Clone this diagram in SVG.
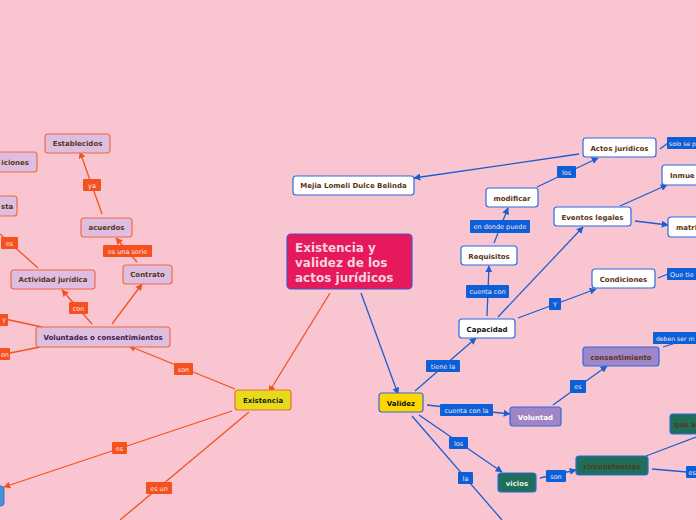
<svg xmlns="http://www.w3.org/2000/svg" width="696" height="520" viewBox="0 0 696 520">
<defs>
<marker id="ao" viewBox="0 0 10 10" refX="9" refY="5" markerWidth="7" markerHeight="7" orient="auto-start-reverse" markerUnits="userSpaceOnUse"><path d="M0,0 L10,5 L0,10 z" fill="#F4511E"/></marker>
<marker id="ab" viewBox="0 0 10 10" refX="9" refY="5" markerWidth="7" markerHeight="7" orient="auto-start-reverse" markerUnits="userSpaceOnUse"><path d="M0,0 L10,5 L0,10 z" fill="#1A5FD1"/></marker>
<style>
.lo{stroke:#F4511E;stroke-width:1.3;fill:none}
.lb{stroke:#1A5FD1;stroke-width:1.3;fill:none}
.no rect{fill:#DDBDE0;stroke:#F4693E;stroke-width:1.2}
.nw rect{fill:#FFFFFF;stroke:#2C6BE0;stroke-width:1.2}
.nt{font-family:"DejaVu Sans",sans-serif;font-weight:bold;font-size:7px;fill:#5A3517;text-anchor:middle}
.lbo rect{fill:#F4511E}
.lbb rect{fill:#0B5FD8}
.lt{font-family:"DejaVu Sans",sans-serif;font-size:6.5px;fill:#FDE3E8;text-anchor:middle}
.s{text-anchor:start}
.e{text-anchor:end}
.sm{font-size:6.1px}
</style>
</defs>
<rect width="696" height="520" fill="#F9C5D1"/>
<g id="connectors">
<line class="lo" x1="330" y1="293" x2="269" y2="392" marker-end="url(#ao)"/>
<line class="lo" x1="235" y1="389" x2="129" y2="346" marker-end="url(#ao)"/>
<line class="lo" x1="92" y1="324" x2="62" y2="290" marker-end="url(#ao)"/>
<line class="lo" x1="112" y1="324" x2="142" y2="284" marker-end="url(#ao)"/>
<line class="lo" x1="137" y1="262" x2="116" y2="238" marker-end="url(#ao)"/>
<line class="lo" x1="102" y1="214" x2="80" y2="152" marker-end="url(#ao)"/>
<line class="lo" x1="38" y1="268" x2="0" y2="234"/>
<line class="lo" x1="42" y1="327" x2="0" y2="318"/>
<line class="lo" x1="40" y1="347" x2="0" y2="355"/>
<line class="lo" x1="232" y1="411" x2="4" y2="487" marker-end="url(#ao)"/>
<line class="lo" x1="249" y1="412" x2="120" y2="520"/>
<line class="lb" x1="361" y1="293" x2="398" y2="394" marker-end="url(#ab)"/>
<line class="lb" x1="415" y1="391" x2="476" y2="338" marker-end="url(#ab)"/>
<line class="lb" x1="487" y1="316" x2="489" y2="266" marker-end="url(#ab)"/>
<line class="lb" x1="494" y1="243" x2="508" y2="208" marker-end="url(#ab)"/>
<line class="lb" x1="537" y1="187" x2="598" y2="158" marker-end="url(#ab)"/>
<line class="lb" x1="579" y1="154" x2="414" y2="178" marker-end="url(#ab)"/>
<line class="lb" x1="660" y1="149" x2="668" y2="143"/>
<line class="lb" x1="498" y1="317" x2="583" y2="227" marker-end="url(#ab)"/>
<line class="lb" x1="620" y1="206" x2="667" y2="185" marker-end="url(#ab)"/>
<line class="lb" x1="635" y1="221" x2="668" y2="225" marker-end="url(#ab)"/>
<line class="lb" x1="518" y1="318" x2="596" y2="289" marker-end="url(#ab)"/>
<line class="lb" x1="658" y1="278" x2="668" y2="274"/>
<line class="lb" x1="663" y1="347" x2="682" y2="341"/>
<line class="lb" x1="553" y1="405" x2="607" y2="366" marker-end="url(#ab)"/>
<line class="lb" x1="427" y1="405" x2="510" y2="414" marker-end="url(#ab)"/>
<line class="lb" x1="419" y1="415" x2="502" y2="472" marker-end="url(#ab)"/>
<line class="lb" x1="412" y1="416" x2="502" y2="520"/>
<line class="lb" x1="540" y1="478" x2="576" y2="470" marker-end="url(#ab)"/>
<line class="lb" x1="646" y1="456" x2="696" y2="437"/>
<line class="lb" x1="652" y1="469" x2="687" y2="472"/>
</g>
<g id="labels">
<g class="lbo"><rect x="83" y="179" width="18" height="12" rx="1"/><text class="lt" x="92" y="187.5">ya</text></g>
<g class="lbo"><rect x="103" y="245" width="49" height="12" rx="1"/><text class="lt" x="127.5" y="253.5">es una serie</text></g>
<g class="lbo"><rect x="1" y="237" width="17" height="12" rx="1"/><text class="lt" x="9.5" y="245.5">es</text></g>
<g class="lbo"><rect x="69" y="302" width="19" height="12" rx="1"/><text class="lt" x="78.5" y="310.5">con</text></g>
<g class="lbo"><rect x="-10" y="314" width="18" height="12" rx="1"/><text class="lt e" x="6" y="322.5">Y</text></g>
<g class="lbo"><rect x="-10" y="348" width="20" height="12" rx="1"/><text class="lt e" x="9" y="356.5">on</text></g>
<g class="lbo"><rect x="174" y="363" width="19" height="12" rx="1"/><text class="lt" x="183.5" y="371.5">son</text></g>
<g class="lbo"><rect x="112" y="442" width="15" height="12" rx="1"/><text class="lt" x="119.5" y="450.5">es</text></g>
<g class="lbo"><rect x="146" y="482" width="26" height="12" rx="1"/><text class="lt" x="159" y="490.5">es un</text></g>
<g class="lbb"><rect x="667" y="137" width="40" height="12" rx="1"/><text class="lt s sm" x="669" y="145.5">solo se p</text></g>
<g class="lbb"><rect x="557" y="166" width="19" height="12" rx="1"/><text class="lt" x="566.5" y="174.5">los</text></g>
<g class="lbb"><rect x="470" y="220" width="60" height="13" rx="1"/><text class="lt" x="500" y="229">en donde puede</text></g>
<g class="lbb"><rect x="466" y="285" width="43" height="13" rx="1"/><text class="lt" x="487.5" y="294">cuenta con</text></g>
<g class="lbb"><rect x="549" y="298" width="12" height="12" rx="1"/><text class="lt" x="555" y="306.5">Y</text></g>
<g class="lbb"><rect x="667" y="268" width="40" height="12" rx="1"/><text class="lt s" x="670" y="276.5">Que tie</text></g>
<g class="lbb"><rect x="653" y="332" width="50" height="12" rx="1"/><text class="lt s sm" x="656" y="340.5">deben ser m</text></g>
<g class="lbb"><rect x="426" y="360" width="34" height="12" rx="1"/><text class="lt" x="443" y="368.5">tiene la</text></g>
<g class="lbb"><rect x="440" y="404" width="53" height="12" rx="1"/><text class="lt" x="466.5" y="412.5">cuenta con la</text></g>
<g class="lbb"><rect x="570" y="380" width="16" height="13" rx="1"/><text class="lt" x="578" y="389">es</text></g>
<g class="lbb"><rect x="449" y="437" width="19" height="12" rx="1"/><text class="lt" x="458.5" y="445.5">los</text></g>
<g class="lbb"><rect x="458" y="472" width="15" height="12" rx="1"/><text class="lt" x="465.5" y="480.5">la</text></g>
<g class="lbb"><rect x="546" y="470" width="20" height="12" rx="1"/><text class="lt" x="556" y="478.5">son</text></g>
<g class="lbb"><rect x="686" y="466" width="20" height="12" rx="1"/><text class="lt s" x="688.5" y="474.5">es</text></g>
</g>
<g id="n-center"><rect x="287" y="234" width="125" height="55" rx="4" fill="#E5195C" stroke="#3E5BC8" stroke-width="1.2"/><text font-family="DejaVu Sans,sans-serif" font-weight="bold" font-size="12" fill="#F9D3DE"><tspan x="295" y="252">Existencia y</tspan><tspan x="295" y="267">validez de los</tspan><tspan x="295" y="282">actos jurídicos</tspan></text></g>
<g id="n-mejia" class="nw"><rect x="293" y="176" width="121" height="19" rx="3"/><text class="nt" x="353.5" y="188">Mejia Lomeli Dulce Belinda</text></g>
<g id="n-establecidos" class="no"><rect x="45" y="134" width="65" height="19" rx="3"/><text class="nt" x="77.5" y="146">Establecidos</text></g>
<g id="n-condiciones-l" class="no"><rect x="-42" y="152" width="79" height="20" rx="3"/><text class="nt e" x="29" y="164.5">iciones</text></g>
<g id="n-sta" class="no"><rect x="-40" y="196" width="57" height="20" rx="3"/><text class="nt s" x="1" y="208.5">sta</text></g>
<g id="n-acuerdos" class="no"><rect x="81" y="218" width="51" height="19" rx="3"/><text class="nt" x="106.5" y="230">acuerdos</text></g>
<g id="n-contrato" class="no"><rect x="123" y="265" width="49" height="19" rx="3"/><text class="nt" x="147.5" y="277">Contrato</text></g>
<g id="n-actividad" class="no"><rect x="11" y="270" width="84" height="19" rx="3"/><text class="nt" x="53" y="282">Actividad jurídica</text></g>
<g id="n-voluntades" class="no"><rect x="36" y="327" width="134" height="20" rx="3"/><text class="nt" x="103" y="339.5" style="fill:#40204A">Voluntades o consentimientos</text></g>
<g id="n-existencia"><rect x="235" y="390" width="56" height="20" rx="3" fill="#E6DA1C" stroke="#F4693E" stroke-width="1.2"/><text class="nt" x="263" y="402.5" style="fill:#1A1A1A">Existencia</text></g>
<g id="n-blue-left"><rect x="-30" y="486" width="34" height="20" rx="3" fill="#4A90D9" stroke="#3A78C0" stroke-width="1"/></g>
<g id="n-actos" class="nw"><rect x="583" y="138" width="73" height="19" rx="3"/><text class="nt" x="619.5" y="150.5">Actos jurídicos</text></g>
<g id="n-modificar" class="nw"><rect x="486" y="188" width="52" height="19" rx="3"/><text class="nt" x="512" y="200.5">modificar</text></g>
<g id="n-eventos" class="nw"><rect x="554" y="207" width="77" height="19" rx="3"/><text class="nt" x="592.5" y="219.5">Eventos legales</text></g>
<g id="n-inmuebles" class="nw"><rect x="662" y="165" width="60" height="20" rx="3"/><text class="nt s" x="670" y="177.5">Inmue</text></g>
<g id="n-matrimonio" class="nw"><rect x="668" y="217" width="60" height="20" rx="3"/><text class="nt s" x="676" y="229.5">matri</text></g>
<g id="n-requisitos" class="nw"><rect x="461" y="246" width="56" height="19" rx="3"/><text class="nt" x="489" y="258.5">Requisitos</text></g>
<g id="n-condiciones" class="nw"><rect x="592" y="269" width="63" height="19" rx="3"/><text class="nt" x="623.5" y="281.5">Condiciones</text></g>
<g id="n-capacidad" class="nw"><rect x="459" y="319" width="56" height="19" rx="3"/><text class="nt" x="487" y="331.5" style="fill:#111">Capacidad</text></g>
<g id="n-consentimiento"><rect x="583" y="347" width="76" height="19" rx="3" fill="#9E86C8" stroke="#2C6BE0" stroke-width="1.2"/><text class="nt" x="621" y="359.5">consentimiento</text></g>
<g id="n-validez"><rect x="379" y="393" width="44" height="19" rx="3" fill="#FFD600" stroke="#2C6BE0" stroke-width="1.2"/><text class="nt" x="401" y="405.5" style="fill:#111">Validez</text></g>
<g id="n-voluntad"><rect x="510" y="407" width="51" height="19" rx="3" fill="#A084C6" stroke="#2C6BE0" stroke-width="1.2"/><text class="nt" x="535.5" y="419.5" style="fill:#FFFFFF">Voluntad</text></g>
<g id="n-vicios"><rect x="498" y="473" width="38" height="19" rx="3" fill="#1E6E5A" stroke="#2C6BE0" stroke-width="1.2"/><text class="nt" x="517" y="485.5" style="fill:#E8F0E8">vicios</text></g>
<g id="n-circunstancias"><rect x="576" y="456" width="72" height="19" rx="3" fill="#1E6E5A" stroke="#2C6BE0" stroke-width="1.2"/><text class="nt" x="612" y="468.5">circunstancias</text></g>
<g id="n-que"><rect x="670" y="414" width="60" height="20" rx="3" fill="#1E6E5A" stroke="#2C6BE0" stroke-width="1.2"/><text class="nt s" x="674" y="426.5">que a</text></g>
</svg>
